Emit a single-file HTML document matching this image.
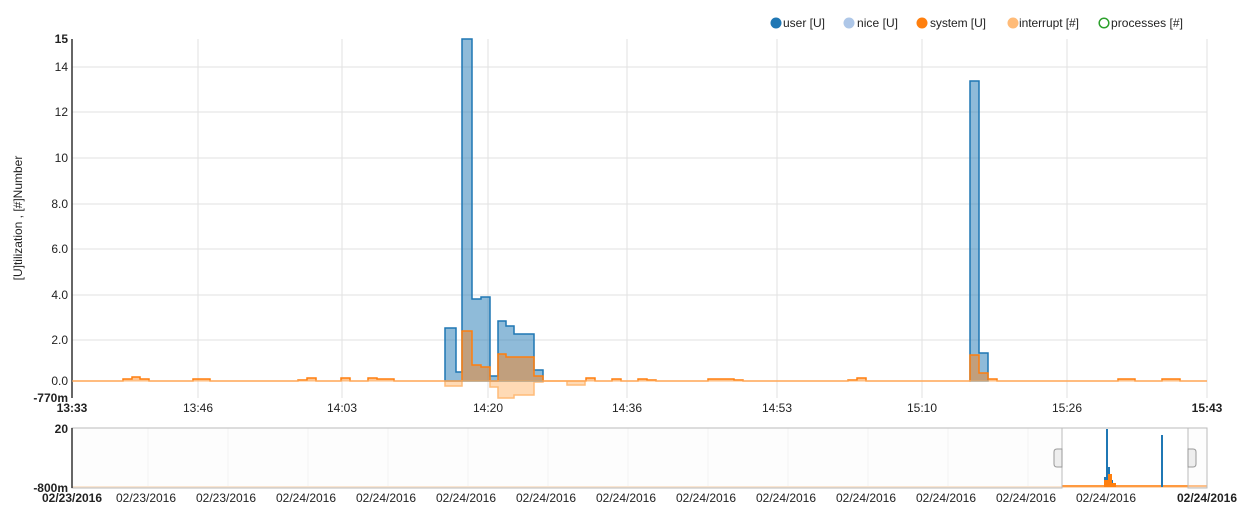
<!DOCTYPE html>
<html><head><meta charset="utf-8"><style>
body{margin:0;background:#fff;}
svg{font-family:"Liberation Sans",Arial,sans-serif;display:block}
</style></head><body>
<svg width="1245" height="518" viewBox="0 0 1245 518">
<!-- legend -->
<g font-size="12" fill="#222">
<circle cx="776" cy="23" r="5.5" fill="#1f77b4"/><text x="783" y="27" textLength="42">user [U]</text>
<circle cx="849" cy="23" r="5.5" fill="#aec7e8"/><text x="857" y="27" textLength="41">nice [U]</text>
<circle cx="922" cy="23" r="5.5" fill="#ff7f0e"/><text x="930" y="27" textLength="56">system [U]</text>
<circle cx="1013" cy="23" r="5.5" fill="#ffbb78"/><text x="1019" y="27" textLength="60">interrupt [#]</text>
<circle cx="1104" cy="23" r="4.8" fill="none" stroke="#2ca02c" stroke-width="1.5"/><text x="1111" y="27" textLength="72">processes [#]</text>
</g>
<!-- grid -->
<g stroke="#e2e2e2" stroke-width="1">
<line x1="72" x2="1207" y1="67" y2="67"/><line x1="72" x2="1207" y1="112" y2="112"/>
<line x1="72" x2="1207" y1="158" y2="158"/><line x1="72" x2="1207" y1="204" y2="204"/>
<line x1="72" x2="1207" y1="249" y2="249"/><line x1="72" x2="1207" y1="295" y2="295"/>
<line x1="72" x2="1207" y1="340" y2="340"/>
<line x1="198" x2="198" y1="39" y2="398"/><line x1="342" x2="342" y1="39" y2="398"/>
<line x1="488" x2="488" y1="39" y2="398"/><line x1="627" x2="627" y1="39" y2="398"/>
<line x1="777" x2="777" y1="39" y2="398"/><line x1="922" x2="922" y1="39" y2="398"/>
<line x1="1067" x2="1067" y1="39" y2="398"/><line x1="1207" x2="1207" y1="39" y2="398"/>
</g>
<!-- interrupt negative -->
<path d="M445 381V386H462V381H490V387H498V398H514V395H534V382H543V381H567V385H585V381Z" fill="#ffbb78" fill-opacity="0.55" stroke="#ffbb78" stroke-width="1.5"/>
<!-- user -->
<path d="M445 381V328H456V372H462V39H472V299H481V297H490V376H498V321H506V326H514V334H534V370H543V381Z" fill="#1f77b4" fill-opacity="0.5" stroke="#1f77b4" stroke-width="1.5"/>
<path d="M970 381V81H979V353H988V381Z" fill="#1f77b4" fill-opacity="0.5" stroke="#1f77b4" stroke-width="1.5"/>
<!-- system -->
<path fill="#ff7f0e" fill-opacity="0.45" stroke="#ff7f0e" stroke-width="1.5" d="M72 381H123V379H132V377H140V379H149V381H193V379H210V381H298V380H307V378H316V381H341V378H350V381H368V378H377V379H394V381H462V331H472V365H481V367H490V381H498V354H506V357H534V376H543V381H586V378H595V381H612V379H621V381H638V379H647V380H656V381H708V379H734V380H743V381H848V380H857V378H866V381H970V355H979V373H988V379H997V381H1118V379H1135V381H1162V379H1180V381H1207"/>
<!-- axes -->
<line x1="72" x2="72" y1="39" y2="398" stroke="#333" stroke-width="1.5"/>
<line x1="72" x2="1207" y1="381" y2="381" stroke="#ffbb78" stroke-width="1"/>
<g font-size="12" fill="#222" text-anchor="end">
<text x="68" y="43" font-weight="bold">15</text><text x="68" y="71">14</text>
<text x="68" y="116">12</text><text x="68" y="162">10</text><text x="68" y="208">8.0</text>
<text x="68" y="253">6.0</text><text x="68" y="299">4.0</text><text x="68" y="344">2.0</text>
<text x="68" y="385">0.0</text><text x="68" y="402" font-weight="bold">-770m</text>
</g>
<text transform="translate(22,218) rotate(-90)" font-size="12" fill="#222" text-anchor="middle">[U]tilization , [#]Number</text>
<g font-size="12" fill="#222" text-anchor="middle">
<text x="72" y="412" font-weight="bold">13:33</text><text x="198" y="412">13:46</text>
<text x="342" y="412">14:03</text><text x="488" y="412">14:20</text>
<text x="627" y="412">14:36</text><text x="777" y="412">14:53</text>
<text x="922" y="412">15:10</text><text x="1067" y="412">15:26</text>
<text x="1207" y="412" font-weight="bold">15:43</text>
</g>
<!-- navigator -->
<g stroke="#f0f0f0"><line x1="148" x2="148" y1="428" y2="488"/><line x1="228" x2="228" y1="428" y2="488"/><line x1="308" x2="308" y1="428" y2="488"/><line x1="388" x2="388" y1="428" y2="488"/><line x1="468" x2="468" y1="428" y2="488"/><line x1="548" x2="548" y1="428" y2="488"/><line x1="628" x2="628" y1="428" y2="488"/><line x1="708" x2="708" y1="428" y2="488"/><line x1="788" x2="788" y1="428" y2="488"/><line x1="868" x2="868" y1="428" y2="488"/><line x1="948" x2="948" y1="428" y2="488"/><line x1="1028" x2="1028" y1="428" y2="488"/></g>
<line x1="72" x2="1207" y1="487" y2="487" stroke="#fbd9b8" stroke-width="2"/>
<line x1="1062" x2="1207" y1="486" y2="486" stroke="#ff9a40" stroke-width="2"/>
<path d="M1104 487V477H1106V429H1108V467H1110V480H1113V487Z" fill="#1f77b4"/>
<rect x="1161" y="435" width="2" height="52" fill="#1f77b4"/>
<path d="M1104 487V480H1108V474H1112V483H1116V487Z" fill="#ff7f0e"/>
<rect x="72" y="428" width="990" height="60" fill="#fafafa" fill-opacity="0.4" stroke="#bbb"/>
<rect x="1188" y="428" width="19" height="60" fill="#fafafa" fill-opacity="0.4" stroke="#bbb"/>
<line x1="1062" x2="1188" y1="428" y2="428" stroke="#bbb"/>
<path d="M1062 449h-5q-3 0-3 3v12q0 3 3 3h5z" fill="#eee" stroke="#999"/>
<path d="M1188 449h5q3 0 3 3v12q0 3-3 3h-5z" fill="#eee" stroke="#999"/>
<line x1="72" x2="72" y1="428" y2="488" stroke="#333" stroke-width="1.5"/>
<g font-size="12" fill="#222" text-anchor="end"><text x="68" y="433" font-weight="bold">20</text><text x="68" y="492" font-weight="bold">-800m</text></g>
<g font-size="12" fill="#222" text-anchor="middle">
<text x="72" y="502" font-weight="bold">02/23/2016</text><text x="146" y="502">02/23/2016</text>
<text x="226" y="502">02/23/2016</text><text x="306" y="502">02/24/2016</text>
<text x="386" y="502">02/24/2016</text><text x="466" y="502">02/24/2016</text>
<text x="546" y="502">02/24/2016</text><text x="626" y="502">02/24/2016</text>
<text x="706" y="502">02/24/2016</text><text x="786" y="502">02/24/2016</text>
<text x="866" y="502">02/24/2016</text><text x="946" y="502">02/24/2016</text>
<text x="1026" y="502">02/24/2016</text><text x="1106" y="502">02/24/2016</text>
<text x="1207" y="502" font-weight="bold">02/24/2016</text>
</g>
</svg>
</body></html>
